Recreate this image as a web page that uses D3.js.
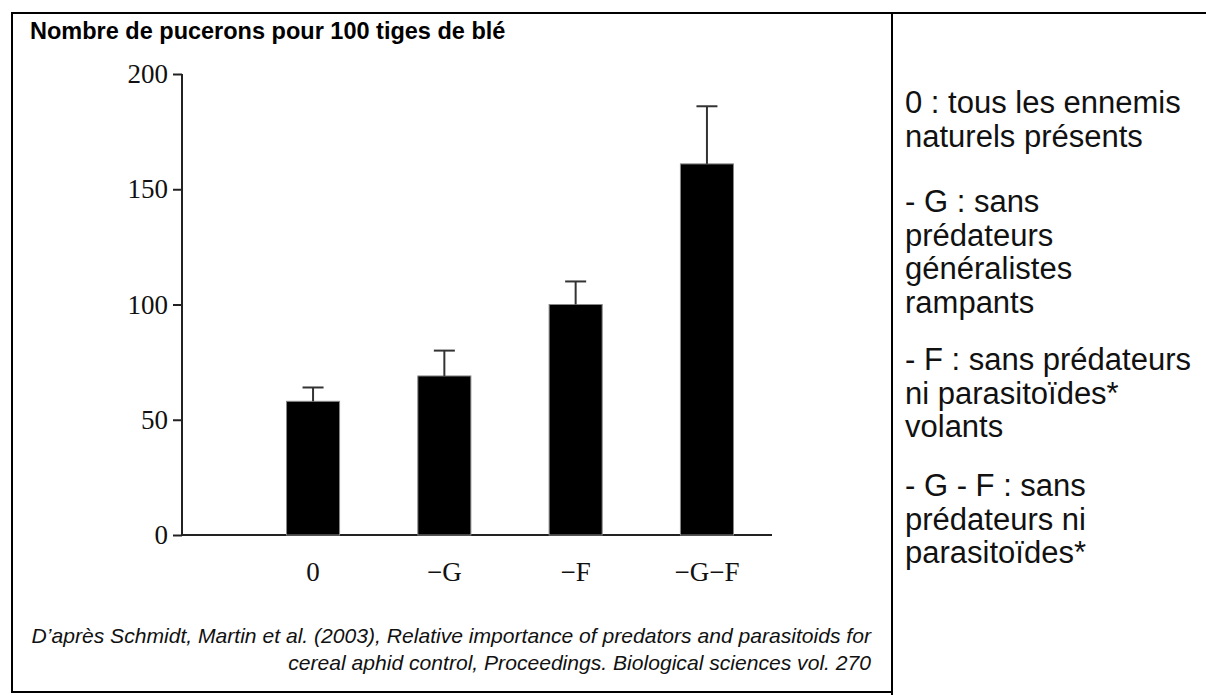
<!DOCTYPE html>
<html><head><meta charset="utf-8">
<script src="https://cdn.jsdelivr.net/npm/d3@7/dist/d3.min.js"></script>
<style>html,body{margin:0;padding:0;background:#fff;}svg{display:block;}</style>
</head><body>
<svg id="c" width="1206" height="695"></svg>
<script>
const categories = ["0", "−G", "−F", "−G−F"];
const means = [58, 69, 100, 161];
const upperErr = [64, 80, 110, 186];
const yTicks = [0, 50, 100, 150, 200];
const title = "Nombre de pucerons pour 100 tiges de blé";
const legendLines = [
  ["0 : tous les ennemis", "naturels présents"],
  ["- G : sans", "prédateurs", "généralistes", "rampants"],
  ["- F : sans prédateurs", "ni parasitoïdes*", "volants"],
  ["- G - F : sans", "prédateurs ni", "parasitoïdes*"]
];
const citation = ["D’après Schmidt, Martin et al. (2003), Relative importance of predators and parasitoids for",
                  "cereal aphid control, Proceedings. Biological sciences vol. 270"];

const svg = d3.select("#c");
const sans = "'Liberation Sans', Arial, sans-serif";
const serif = "'Liberation Serif', 'Times New Roman', serif";

// frame
const fr = svg.append("g").attr("stroke", "#000").attr("stroke-width", 2).attr("fill", "none");
fr.append("line").attr("x1", 11).attr("x2", 1206).attr("y1", 13).attr("y2", 13);
fr.append("line").attr("x1", 12).attr("x2", 12).attr("y1", 12).attr("y2", 692);
fr.append("line").attr("x1", 11).attr("x2", 892).attr("y1", 692).attr("y2", 692);
fr.append("line").attr("x1", 892).attr("x2", 892).attr("y1", 12).attr("y2", 695);

svg.append("text").attr("x", 30).attr("y", 39).attr("font-family", sans)
  .attr("font-size", 23.5).attr("font-weight", "bold").attr("fill", "#000").text(title);

const axisX = 182;
const y = d3.scaleLinear().domain([0, 200]).range([535, 74]);
const x = d3.scaleBand().domain(categories).range([247.4, 772.6]).paddingInner(0.596).paddingOuter(0.298);

const yAxis = svg.append("g").attr("transform", `translate(${axisX},0)`)
  .call(d3.axisLeft(y).tickValues(yTicks).tickSize(9).tickPadding(5).tickFormat(d3.format("d")));
yAxis.select(".domain").attr("stroke", "#222").attr("stroke-width", 2).attr("d", `M0,${y(200)}V${y(0)}`);
yAxis.selectAll(".tick line").attr("stroke", "#222").attr("stroke-width", 2);
yAxis.selectAll(".tick text").attr("font-family", serif).attr("font-size", 27).attr("fill", "#111");

const xAxis = svg.append("g").attr("transform", `translate(0,${y(0)})`)
  .call(d3.axisBottom(x).tickSize(0).tickPadding(27));
xAxis.select(".domain").attr("stroke", "#222").attr("stroke-width", 2).attr("d", `M${axisX},0H772`);
xAxis.selectAll(".tick text").attr("font-family", serif).attr("font-size", 27).attr("fill", "#111");

const data = categories.map((c, i) => ({c, m: means[i], e: upperErr[i]}));
svg.append("g").selectAll("rect").data(data).join("rect")
  .attr("x", d => x(d.c)).attr("width", x.bandwidth())
  .attr("y", d => y(d.m)).attr("height", d => y(0) - y(d.m))
  .attr("fill", "#000").attr("stroke", "#888").attr("stroke-width", 1);

const eb = svg.append("g").attr("stroke", "#333").attr("stroke-width", 2);
eb.selectAll("line.v").data(data).join("line").attr("class", "v")
  .attr("x1", d => x(d.c) + x.bandwidth() / 2).attr("x2", d => x(d.c) + x.bandwidth() / 2)
  .attr("y1", d => y(d.m)).attr("y2", d => y(d.e));
eb.selectAll("line.h").data(data).join("line").attr("class", "h")
  .attr("x1", d => x(d.c) + x.bandwidth() / 2 - 10.5).attr("x2", d => x(d.c) + x.bandwidth() / 2 + 10.5)
  .attr("y1", d => y(d.e)).attr("y2", d => y(d.e));

// legend
const lg = svg.append("g").attr("font-family", sans).attr("font-size", 31).attr("fill", "#111");
const groupStart = [113, 212, 370, 496];
const lh = 33.5;
legendLines.forEach((lines, gi) => {
  lines.forEach((t, li) => {
    lg.append("text").attr("x", 905).attr("y", groupStart[gi] + li * lh).text(t);
  });
});

// citation (font size fitted to the line width)
const ct = svg.append("g").attr("font-family", sans).attr("font-size", 18)
  .attr("font-style", "italic").attr("fill", "#111").attr("text-anchor", "end");
const cts = citation.map((t, i) => ct.append("text").attr("x", 871).attr("y", 643 + i * 27).text(t));
const w0 = cts[0].node().getComputedTextLength();
ct.attr("font-size", 18 * 840 / w0);
</script>
</body></html>
